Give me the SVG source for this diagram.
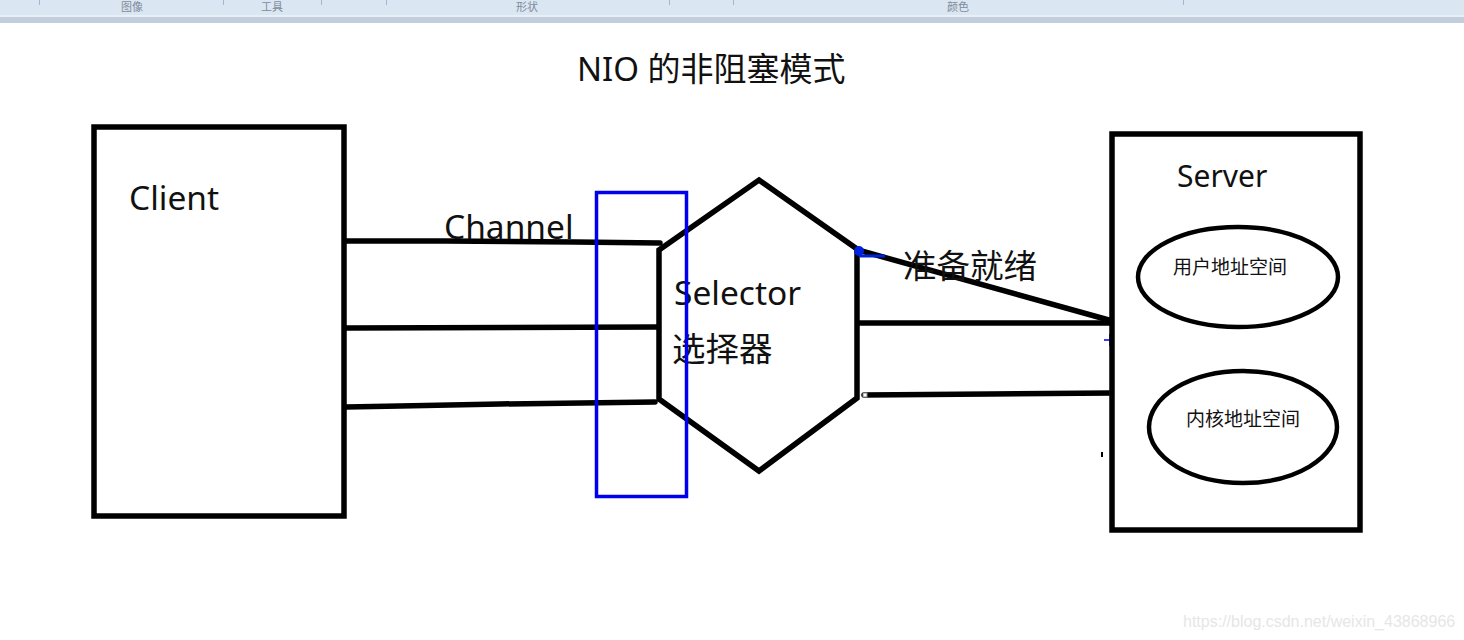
<svg xmlns="http://www.w3.org/2000/svg" width="1464" height="640" viewBox="0 0 1464 640">
  <style>
    .box { fill: #ffffff; stroke: #000000; stroke-width: 5.5; }
    .ell { fill: #ffffff; stroke: #000000; stroke-width: 4.5; }
    .wire { fill: none; stroke: #000000; stroke-width: 5.5; stroke-linecap: round; }
    .lbl { font-family: "Noto Sans", "Noto Sans CJK SC", sans-serif; fill: #111111; }
    .big { font-size: 33.5px; }
    .small { font-size: 19px; }
    .tb { font-family: "Noto Sans CJK SC", sans-serif; font-size: 11px; fill: #7f8c9a; }
    .sep { stroke: #a9b6c6; stroke-width: 1; }
    .handle { fill: #ffffff; stroke: #888888; stroke-width: 1; }
  </style>
  <rect x="0" y="0" width="1464" height="640" fill="#ffffff"/>
  <g id="toolbar">
    <rect x="0" y="0" width="1464" height="15" fill="#dbe6f3"/>
    <rect x="0" y="15" width="1464" height="2" fill="#e9eff7"/>
    <rect x="0" y="17" width="1464" height="6" fill="#c3cedd"/>
    <line class="sep" x1="39.5" y1="0" x2="39.5" y2="5"/>
    <line class="sep" x1="223.5" y1="0" x2="223.5" y2="5"/>
    <line class="sep" x1="321.5" y1="0" x2="321.5" y2="5"/>
    <line class="sep" x1="386.5" y1="0" x2="386.5" y2="5"/>
    <line class="sep" x1="669.5" y1="0" x2="669.5" y2="5"/>
    <line class="sep" x1="733.5" y1="0" x2="733.5" y2="5"/>
    <line class="sep" x1="1183.5" y1="0" x2="1183.5" y2="5"/>
    <text class="tb" x="132" y="11" text-anchor="middle">图像</text>
    <text class="tb" x="272" y="11" text-anchor="middle">工具</text>
    <text class="tb" x="527" y="11" text-anchor="middle">形状</text>
    <text class="tb" x="958" y="11" text-anchor="middle">颜色</text>
  </g>

  <text id="title" class="lbl" x="577" y="81" font-size="33">NIO 的非阻塞模式</text>

  <g id="connectors">
    <polyline class="wire" points="346,241 445,241 575,242 660,243"/>
    <line class="wire" x1="346" y1="328" x2="657" y2="327"/>
    <polyline class="wire" points="346,407 400,406 500,404 655,402"/>
    <line class="wire" x1="858" y1="250" x2="1116" y2="322"/>
    <line class="wire" x1="856" y1="323" x2="1116" y2="323"/>
    <polyline class="wire" points="864,395 990,394 1112,393"/>
  </g>

  <g id="client">
    <rect class="box" x="94" y="127" width="250" height="389"/>
    <text class="lbl big" x="129" y="210">Client</text>
  </g>

  <text id="channel-label" class="lbl big" x="444" y="239">Channel</text>

  <g id="selector">
    <polygon class="box" points="759,180 857,249 857,398 759,471 659,399 659,250"/>
    <text class="lbl big" x="674" y="305">Selector</text>
    <text class="lbl big" x="672" y="361">选择器</text>
  </g>

  <g id="channel-highlight">
    <rect x="596.5" y="192.5" width="90" height="304" fill="none" stroke="#0000ee" stroke-width="3.5"/>
  </g>

  <g id="ready-annotation">
    <circle cx="859" cy="251" r="5" fill="#0022dd"/>
    <line x1="859" y1="256" x2="885" y2="256" stroke="#0022dd" stroke-width="3"/>
    <text class="lbl big" x="903" y="278">准备就绪</text>
    <line x1="1104" y1="340" x2="1116" y2="340" stroke="#0000ee" stroke-width="1.5"/>
    <line x1="1110" y1="334" x2="1110" y2="346" stroke="#0000ee" stroke-width="1.5"/>
    <rect class="handle" x="863" y="393" width="4" height="4"/>
    <rect class="handle" x="1110" y="391" width="4" height="4"/>
    <rect x="1101" y="452" width="2" height="5" fill="#000000"/>
  </g>

  <g id="server">
    <rect class="box" x="1112" y="134" width="248" height="396"/>
    <text class="lbl" x="1177" y="187" font-size="30">Server</text>
  </g>

  <g id="user-space">
    <ellipse class="ell" cx="1238" cy="277" rx="100" ry="50"/>
    <text class="lbl small" x="1173" y="274">用户地址空间</text>
  </g>

  <g id="kernel-space">
    <ellipse class="ell" cx="1243" cy="427" rx="94" ry="56"/>
    <text class="lbl small" x="1186" y="426">内核地址空间</text>
  </g>

  <text id="watermark" x="1183" y="627" font-family="Liberation Sans, sans-serif" font-size="16" fill="#e6e6e6">https://blog.csdn.net/weixin_43868966</text>
</svg>
